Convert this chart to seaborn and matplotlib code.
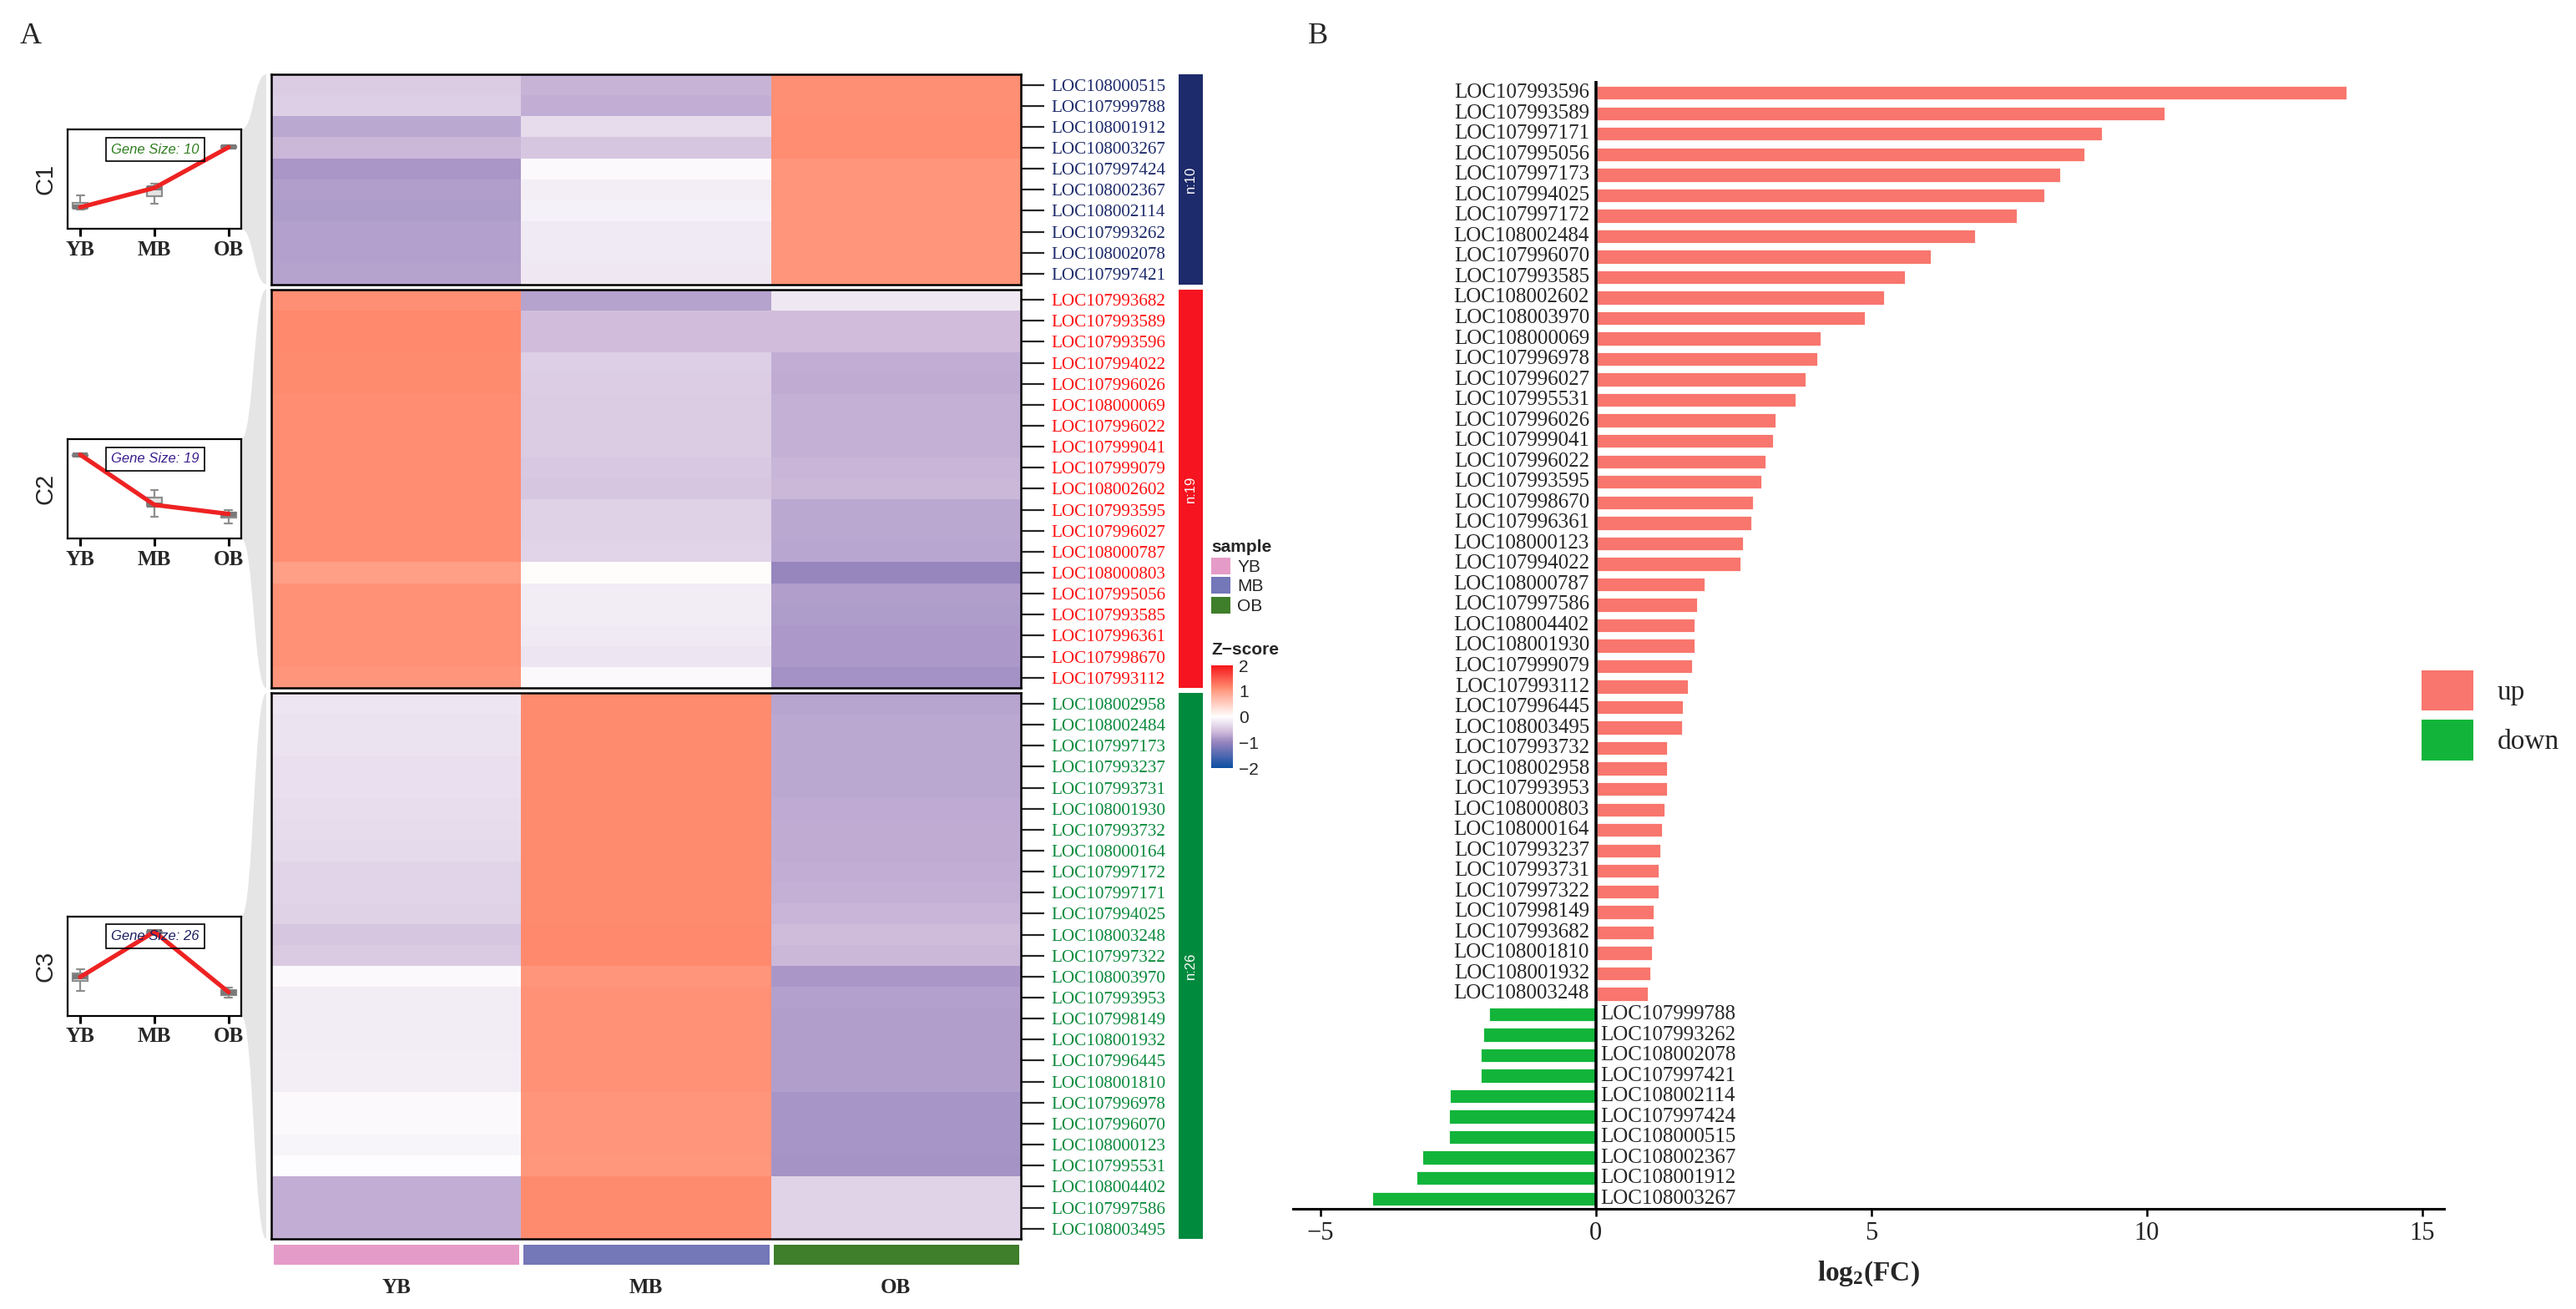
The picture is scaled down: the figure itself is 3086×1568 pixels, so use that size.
import numpy as np
import pandas as pd
import matplotlib
matplotlib.use("Agg")
import matplotlib.pyplot as plt
import seaborn as sns
from matplotlib.colors import LinearSegmentedColormap, ListedColormap, Normalize
from matplotlib.patches import Patch, PathPatch, Rectangle
from matplotlib.path import Path
from matplotlib.cm import ScalarMappable

# ---------------- data ----------------
stages = ["YB", "MB", "OB"]
sample_colors = ["#E59BC8", "#7477B8", "#3F7E2A"]

c1_genes = ["LOC108000515", "LOC107999788", "LOC108001912", "LOC108003267", "LOC107997424",
            "LOC108002367", "LOC108002114", "LOC107993262", "LOC108002078", "LOC107997421"]
c1_yb = [-0.45, -0.42, -0.72, -0.62, -0.85, -0.80, -0.82, -0.79, -0.79, -0.78]
c1_mb = [-0.65, -0.68, -0.30, -0.50, -0.06, -0.15, -0.12, -0.18, -0.18, -0.20]
c1_ob = [1.10, 1.10, 1.12, 1.12, 1.05, 1.05, 1.05, 1.06, 1.06, 1.06]

c2_genes = ["LOC107993682", "LOC107993589", "LOC107993596", "LOC107994022", "LOC107996026",
            "LOC108000069", "LOC107996022", "LOC107999041", "LOC107999079", "LOC108002602",
            "LOC107993595", "LOC107996027", "LOC108000787", "LOC108000803", "LOC107995056",
            "LOC107993585", "LOC107996361", "LOC107998670", "LOC107993112"]
c2_yb = [1.10, 1.15, 1.15, 1.13, 1.13, 1.12, 1.12, 1.12, 1.12, 1.12,
         1.12, 1.12, 1.12, 0.97, 1.08, 1.08, 1.08, 1.08, 1.06]
c2_mb = [-0.78, -0.57, -0.57, -0.42, -0.43, -0.45, -0.45, -0.45, -0.48, -0.50,
         -0.40, -0.40, -0.36, 0.03, -0.17, -0.17, -0.18, -0.22, -0.05]
c2_ob = [-0.20, -0.57, -0.57, -0.68, -0.70, -0.66, -0.67, -0.67, -0.64, -0.62,
         -0.72, -0.72, -0.74, -1.00, -0.80, -0.82, -0.83, -0.83, -0.90]

c3_genes = ["LOC108002958", "LOC108002484", "LOC107997173", "LOC107993237", "LOC107993731",
            "LOC108001930", "LOC107993732", "LOC108000164", "LOC107997172", "LOC107997171",
            "LOC107994025", "LOC108003248", "LOC107997322", "LOC108003970", "LOC107993953",
            "LOC107998149", "LOC108001932", "LOC107996445", "LOC108001810", "LOC107996978",
            "LOC107996070", "LOC108000123", "LOC107995531", "LOC108004402", "LOC107997586",
            "LOC108003495"]
c3_yb = [-0.22, -0.24, -0.25, -0.27, -0.28, -0.29, -0.31, -0.32, -0.36, -0.37,
         -0.40, -0.50, -0.46, -0.06, -0.17, -0.17, -0.17, -0.15, -0.15, -0.06,
         -0.06, -0.08, -0.02, -0.68, -0.68, -0.68]
c3_mb = [1.13, 1.13, 1.13, 1.13, 1.13, 1.13, 1.13, 1.13, 1.14, 1.14,
         1.14, 1.15, 1.15, 1.06, 1.09, 1.09, 1.09, 1.09, 1.09, 1.05,
         1.05, 1.05, 1.04, 1.14, 1.14, 1.14]
c3_ob = [-0.76, -0.73, -0.73, -0.72, -0.72, -0.71, -0.70, -0.70, -0.68, -0.67,
         -0.64, -0.58, -0.62, -0.85, -0.79, -0.80, -0.80, -0.81, -0.81, -0.86,
         -0.86, -0.86, -0.88, -0.38, -0.38, -0.38]

cluster_names = ["C1", "C2", "C3"]
cluster_colors = ["#1D2A6B", "#F5141F", "#008A3E"]
label_colors = ["#1D2A6B", "#FF1010", "#0A8A3C"]
gene_size_colors = ["#2F7D1F", "#3A1E8E", "#1D2060"]

fc_genes = ["LOC107993596", "LOC107993589", "LOC107997171", "LOC107995056", "LOC107997173",
            "LOC107994025", "LOC107997172", "LOC108002484", "LOC107996070", "LOC107993585",
            "LOC108002602", "LOC108003970", "LOC108000069", "LOC107996978", "LOC107996027",
            "LOC107995531", "LOC107996026", "LOC107999041", "LOC107996022", "LOC107993595",
            "LOC107998670", "LOC107996361", "LOC108000123", "LOC107994022", "LOC108000787",
            "LOC107997586", "LOC108004402", "LOC108001930", "LOC107999079", "LOC107993112",
            "LOC107996445", "LOC108003495", "LOC107993732", "LOC108002958", "LOC107993953",
            "LOC108000803", "LOC108000164", "LOC107993237", "LOC107993731", "LOC107997322",
            "LOC107998149", "LOC107993682", "LOC108001810", "LOC108001932", "LOC108003248",
            "LOC107999788", "LOC107993262", "LOC108002078", "LOC107997421", "LOC108002114",
            "LOC107997424", "LOC108000515", "LOC108002367", "LOC108001912", "LOC108003267"]
fc_values = [13.64, 10.34, 9.20, 8.89, 8.44, 8.15, 7.65, 6.90, 6.10, 5.62,
             5.25, 4.90, 4.09, 4.03, 3.82, 3.64, 3.27, 3.23, 3.10, 3.02,
             2.87, 2.84, 2.68, 2.64, 1.99, 1.85, 1.80, 1.80, 1.76, 1.69,
             1.60, 1.58, 1.31, 1.30, 1.30, 1.26, 1.22, 1.19, 1.16, 1.16,
             1.06, 1.06, 1.03, 1.00, 0.96,
             -1.95, -2.06, -2.10, -2.10, -2.67, -2.68, -2.68, -3.17, -3.27, -4.07]
fc_colors = {"up": "#F8766D", "down": "#12B53A"}

# ---------------- setup ----------------
W, H, DPI = 3086, 1568, 200
SERIF = "Liberation Serif"
SANS = "Liberation Sans"
sns.set_style("white")
plt.rcParams["font.family"] = [SERIF, "DejaVu Serif"]
plt.rcParams["mathtext.fontset"] = "custom"
plt.rcParams["mathtext.rm"] = SERIF
plt.rcParams["mathtext.bf"] = SERIF + ":bold"


def fbox(x0, y0, x1, y1):
    # pixel box (y from top) -> figure fraction rect
    return [x0 / W, 1 - y1 / H, (x1 - x0) / W, (y1 - y0) / H]


fig = plt.figure(figsize=(W / DPI, H / DPI), dpi=DPI)
bg = fig.add_axes([0, 0, 1, 1])
bg.set_xlim(0, W)
bg.set_ylim(H, 0)
bg.axis("off")

node_v = [-2, -1, -0.58, 0, 0.97, 1.15, 2]
node_c = ["#0B4EA2", "#9684BE", "#D0BCDB", "#FFFFFF", "#FFA088", "#FF896D", "#F5161C"]
zcmap = LinearSegmentedColormap.from_list("z", [((v + 2) / 4, c) for v, c in zip(node_v, node_c)])

clusters = [
    (c1_genes, c1_yb, c1_mb, c1_ob),
    (c2_genes, c2_yb, c2_mb, c2_ob),
    (c3_genes, c3_yb, c3_mb, c3_ob),
]

HM_X0, HM_X1 = 325, 1223
ROW_H, GAP = 25.15, 6
INS_X0, INS_X1, INS_H = 81, 289, 119
y_top = 89

for k, (genes, yb, mb, ob) in enumerate(clusters):
    n = len(genes)
    y_bot = y_top + n * ROW_H
    mat = pd.DataFrame({"YB": yb, "MB": mb, "OB": ob}, index=genes)

    ax = fig.add_axes(fbox(HM_X0, y_top, HM_X1, y_bot))
    sns.heatmap(mat, ax=ax, cmap=zcmap, vmin=-2, vmax=2, cbar=False,
                xticklabels=False, yticklabels=True)
    for sp in ax.spines.values():
        sp.set_visible(True)
        sp.set_linewidth(0.9)
        sp.set_color("black")
    ax.tick_params(axis="y", left=False, right=True, labelleft=False, labelright=True,
                   length=10, width=0.8, pad=3.2, labelsize=7.6, rotation=0)
    ax.set_ylabel("")
    for t in ax.get_yticklabels():
        t.set_color(label_colors[k])
        t.set_fontfamily(SERIF)

    # cluster side bar
    bg.add_patch(Rectangle((1412, y_top), 29, y_bot - y_top, color=cluster_colors[k], lw=0))
    bg.text(1426.5, (y_top + y_bot) / 2, f"n:{n}", rotation=90, ha="center", va="center",
            color="white", fontsize=6, family=SANS)

    # inset line/box plot
    yc = (y_top + y_bot) / 2
    it, ib = yc - INS_H / 2, yc + INS_H / 2
    iax = fig.add_axes(fbox(INS_X0, it, INS_X1, ib))
    long = mat.reset_index(names="gene").melt(id_vars="gene", var_name="stage", value_name="z")
    sns.boxplot(data=long, x="stage", y="z", order=stages, ax=iax, width=0.2,
                showfliers=False, color="#E4E4E4", linecolor="#8E8E8E", linewidth=0.8,
                saturation=1, medianprops=dict(color="#7A7A7A", linewidth=2.2))
    med = long.groupby("stage")["z"].median().reindex(stages).values
    sns.lineplot(x=np.arange(3), y=med, ax=iax, color="#EE2222", lw=1.9, zorder=5)
    iax.set_xlim(-0.17, 2.17)
    iax.set_ylim(-1.45, 1.6)
    iax.set_xlabel("")
    iax.set_ylabel("")
    iax.set_yticks([])
    iax.set_xticks(range(3))
    iax.set_xticklabels(stages, fontweight="bold", fontsize=9, family=SERIF)
    iax.tick_params(axis="x", bottom=True, length=3.4, width=1.1, pad=1.5, color="black")
    for sp in iax.spines.values():
        sp.set_visible(True)
        sp.set_linewidth(0.8)
        sp.set_color("black")
    iax.text(0.505, 0.8, f"Gene Size: {n}", transform=iax.transAxes, ha="center", va="center",
             fontsize=6, style="italic", family=SANS, color=gene_size_colors[k],
             bbox=dict(boxstyle="square,pad=0.4", fc="none", ec="black", lw=0.6), zorder=6)
    fig.text(54 / W, 1 - yc / H, cluster_names[k], rotation=90, ha="center", va="center",
             fontsize=10.5, family=SANS)

    # grey link from inset to heatmap block
    xm = (INS_X1 + 319) / 2
    verts = [(INS_X1, it), (xm, it), (xm, y_top), (319, y_top),
             (319, y_bot), (xm, y_bot), (xm, ib), (INS_X1, ib), (INS_X1, it)]
    codes = [Path.MOVETO, Path.CURVE4, Path.CURVE4, Path.CURVE4,
             Path.LINETO, Path.CURVE4, Path.CURVE4, Path.CURVE4, Path.CLOSEPOLY]
    bg.add_patch(PathPatch(Path(verts, codes), fc="#E5E5E5", ec="none"))

    y_top = y_bot + GAP

# sample annotation bar
aax = fig.add_axes(fbox(HM_X0, 1488, HM_X1, 1517))
sns.heatmap(np.array([[0, 1, 2]]), ax=aax, cmap=ListedColormap(sample_colors), cbar=False,
            linewidths=1.2, linecolor="white", xticklabels=stages, yticklabels=False)
aax.tick_params(axis="x", length=0, pad=5)
for t in aax.get_xticklabels():
    t.set_fontweight("bold")
    t.set_fontsize(9)
    t.set_fontfamily(SERIF)
    t.set_rotation(0)

# sample legend
fig.legend(handles=[Patch(fc=c, ec="none") for c in sample_colors], labels=stages,
           title="sample", loc="upper left", bbox_to_anchor=(1451 / W, 1 - 646 / H),
           frameon=False, borderpad=0, borderaxespad=0, handlelength=1.1, handleheight=1.1,
           labelspacing=0.12, handletextpad=0.4, alignment="left",
           prop=dict(family=SANS, size=7.5),
           title_fontproperties=dict(family=SANS, size=7.5, weight="bold"))

# Z-score colorbar
fig.text(1451 / W, 1 - 778 / H, "Z\u2212score", fontsize=7.5, fontweight="bold",
         family=SANS, va="center", ha="left")
cax = fig.add_axes(fbox(1451, 797, 1477, 920))
cb = fig.colorbar(ScalarMappable(norm=Normalize(-2, 2), cmap=zcmap), cax=cax)
cb.outline.set_visible(False)
cb.set_ticks([-2, -1, 0, 1, 2])
cax.yaxis.set_ticks_position("both")
cax.tick_params(axis="y", direction="in", length=2.5, width=0.7, color="white",
                labelsize=7.5, pad=2.5, labelright=True, labelleft=False)
for t in cax.get_yticklabels():
    t.set_fontfamily(SANS)

# ---------------- panel B: log2FC bars ----------------
df_fc = pd.DataFrame({"gene": fc_genes, "log2FC": fc_values})
df_fc["direction"] = np.where(df_fc["log2FC"] > 0, "up", "down")

bax = fig.add_axes(fbox(1549, 96.5, 2928, 1448))
sns.barplot(data=df_fc, x="log2FC", y="gene", hue="direction", order=fc_genes,
            hue_order=["up", "down"], palette=fc_colors, dodge=False, width=0.75,
            saturation=1, legend=False, ax=bax)
bax.set_ylim(len(fc_genes) - 0.5, -0.6)
bax.set_xlim(-5.5, 15.4)
bax.set_yticks([])
bax.set_ylabel("")
bax.axvline(0, color="black", lw=1.3, zorder=5)
for s in ["top", "right", "left"]:
    bax.spines[s].set_visible(False)
bax.spines["bottom"].set_linewidth(1.1)
bax.spines["bottom"].set_color("black")
bax.set_xticks([-5, 0, 5, 10, 15])
bax.tick_params(axis="x", bottom=True, length=3.3, width=0.9, color="black",
                labelsize=11, labelcolor="#222222", pad=2)
bax.set_xlabel(r"$\mathbf{log_2(FC)}$", fontsize=12, labelpad=6)
for i, (g, v) in enumerate(zip(fc_genes, fc_values)):
    if v > 0:
        bax.text(-0.12, i, g, ha="right", va="center", fontsize=9, family=SERIF)
    else:
        bax.text(0.08, i, g, ha="left", va="center", fontsize=9, family=SERIF)

fig.legend(handles=[Patch(fc=fc_colors["up"], ec="none"), Patch(fc=fc_colors["down"], ec="none")],
           labels=["up", "down"], loc="upper left", bbox_to_anchor=(2901 / W, 1 - 803 / H),
           frameon=False, borderpad=0, borderaxespad=0, handlelength=1.86, handleheight=1.86,
           labelspacing=0.33, handletextpad=0.87, prop=dict(family=SERIF, size=12))

# panel letters
fig.text(24 / W, 1 - 43 / H, "A", fontsize=13, family=SERIF, va="center")
fig.text(1567 / W, 1 - 43 / H, "B", fontsize=13, family=SERIF, va="center")

fig.savefig("out.png", dpi=DPI)
